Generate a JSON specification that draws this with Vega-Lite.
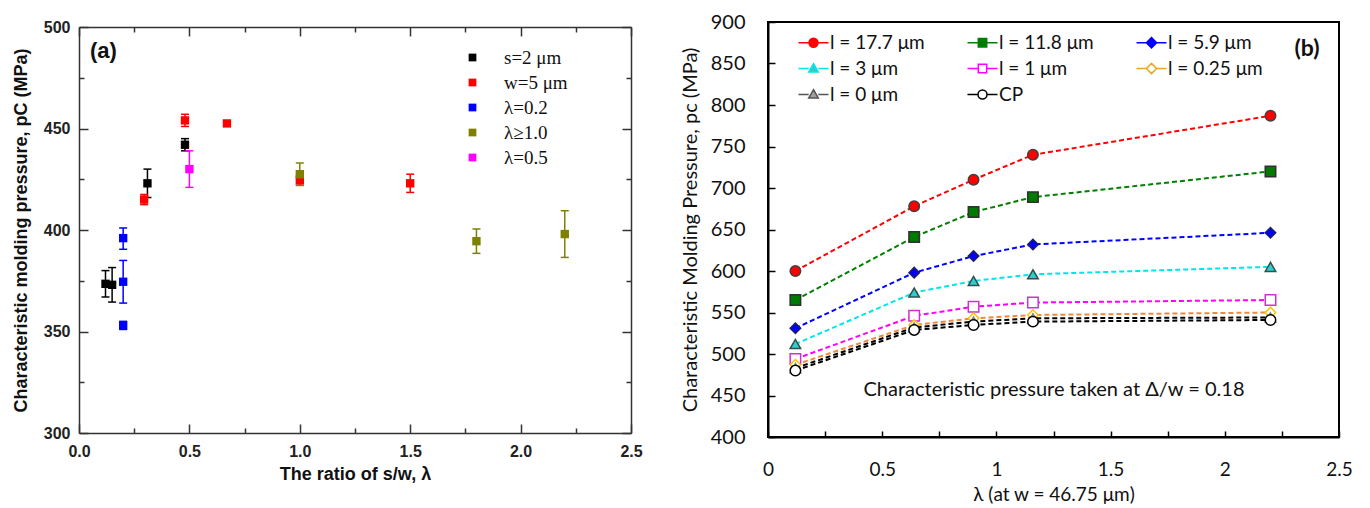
{
  "$schema": "https://vega.github.io/schema/vega-lite/v6.json",
  "padding": {"left": 12, "top": 11, "right": 0, "bottom": 0},
  "background": "white",
  "spacing": 36,
  "resolve": {"scale": {"color": "independent", "shape": "independent", "fill": "independent", "stroke": "independent"}},
  "datasets": {
    "a": [
      {"series": "s=2 μm", "x": 0.12, "p": 373.5, "lo": 367, "hi": 380},
      {"series": "s=2 μm", "x": 0.15, "p": 373, "lo": 364.5, "hi": 381.5},
      {"series": "s=2 μm", "x": 0.31, "p": 423, "lo": 416, "hi": 430},
      {"series": "s=2 μm", "x": 0.48, "p": 442, "lo": 439, "hi": 445},
      {"series": "w=5 μm", "x": 0.295, "p": 415, "lo": 412.5, "hi": 417.5},
      {"series": "w=5 μm", "x": 0.48, "p": 454, "lo": 451, "hi": 457},
      {"series": "w=5 μm", "x": 0.67, "p": 452.5, "lo": 451.5, "hi": 453.5},
      {"series": "w=5 μm", "x": 1.0, "p": 424.5, "lo": 422, "hi": 427},
      {"series": "w=5 μm", "x": 1.5, "p": 423, "lo": 418.5, "hi": 427.5},
      {"series": "λ=0.2", "x": 0.2, "p": 396, "lo": 390.5, "hi": 401},
      {"series": "λ=0.2", "x": 0.2, "p": 374.5, "lo": 364, "hi": 385},
      {"series": "λ=0.2", "x": 0.2, "p": 353, "lo": 351, "hi": 355},
      {"series": "λ≥1.0", "x": 1.0, "p": 427.5, "lo": 422, "hi": 433},
      {"series": "λ≥1.0", "x": 1.8, "p": 394.5, "lo": 388.5, "hi": 400.5},
      {"series": "λ≥1.0", "x": 2.2, "p": 398, "lo": 386.5, "hi": 409.5},
      {"series": "λ=0.5", "x": 0.5, "p": 430, "lo": 421, "hi": 439}
    ],
    "b": [
      {"series": "l = 17.7 μm", "x": 0.12, "p": 600},
      {"series": "l = 17.7 μm", "x": 0.64, "p": 678},
      {"series": "l = 17.7 μm", "x": 0.9, "p": 710},
      {"series": "l = 17.7 μm", "x": 1.16, "p": 740},
      {"series": "l = 17.7 μm", "x": 2.2, "p": 787},
      {"series": "l = 11.8 μm", "x": 0.12, "p": 565},
      {"series": "l = 11.8 μm", "x": 0.64, "p": 641},
      {"series": "l = 11.8 μm", "x": 0.9, "p": 671},
      {"series": "l = 11.8 μm", "x": 1.16, "p": 689},
      {"series": "l = 11.8 μm", "x": 2.2, "p": 720},
      {"series": "l = 5.9 μm", "x": 0.12, "p": 531},
      {"series": "l = 5.9 μm", "x": 0.64, "p": 598},
      {"series": "l = 5.9 μm", "x": 0.9, "p": 618},
      {"series": "l = 5.9 μm", "x": 1.16, "p": 632},
      {"series": "l = 5.9 μm", "x": 2.2, "p": 646},
      {"series": "l = 3 μm", "x": 0.12, "p": 512},
      {"series": "l = 3 μm", "x": 0.64, "p": 574},
      {"series": "l = 3 μm", "x": 0.9, "p": 588},
      {"series": "l = 3 μm", "x": 1.16, "p": 596},
      {"series": "l = 3 μm", "x": 2.2, "p": 605},
      {"series": "l = 1 μm", "x": 0.12, "p": 494},
      {"series": "l = 1 μm", "x": 0.64, "p": 546},
      {"series": "l = 1 μm", "x": 0.9, "p": 557},
      {"series": "l = 1 μm", "x": 1.16, "p": 562},
      {"series": "l = 1 μm", "x": 2.2, "p": 565},
      {"series": "l = 0.25 μm", "x": 0.12, "p": 487},
      {"series": "l = 0.25 μm", "x": 0.64, "p": 535},
      {"series": "l = 0.25 μm", "x": 0.9, "p": 543},
      {"series": "l = 0.25 μm", "x": 1.16, "p": 547},
      {"series": "l = 0.25 μm", "x": 2.2, "p": 550},
      {"series": "l = 0 μm", "x": 0.12, "p": 483},
      {"series": "l = 0 μm", "x": 0.64, "p": 532},
      {"series": "l = 0 μm", "x": 0.9, "p": 539},
      {"series": "l = 0 μm", "x": 1.16, "p": 543},
      {"series": "l = 0 μm", "x": 2.2, "p": 544},
      {"series": "CP", "x": 0.12, "p": 480},
      {"series": "CP", "x": 0.64, "p": 529},
      {"series": "CP", "x": 0.9, "p": 535},
      {"series": "CP", "x": 1.16, "p": 539},
      {"series": "CP", "x": 2.2, "p": 541}
    ]
  },
  "hconcat": [
    {
      "width": 552,
      "height": 411,
      "view": {"stroke": null},
      "resolve": {"axis": {"x": "independent", "y": "independent"}},
      "layer": [
        {
          "data": {"name": "a"},
          "mark": {"type": "rule", "strokeWidth": 1.5},
          "encoding": {
            "x": {"field": "x", "type": "quantitative", "scale": {"domain": [0, 2.5], "nice": false, "zero": false},
              "axis": {"orient": "bottom", "values": [0, 0.5, 1, 1.5, 2, 2.5], "format": ".1f", "tickSize": -9, "tickWidth": 1.5, "tickColor": "#333", "domainColor": "#333", "domainWidth": 1.5, "grid": false, "labelPadding": 19, "labelFont": "Liberation Sans", "labelFontWeight": "bold", "labelFontSize": 16, "labelColor": "#222", "title": "The ratio of s/w, λ", "titleFont": "Liberation Sans", "titleFontWeight": "bold", "titleFontSize": 18, "titleColor": "#111", "titlePadding": 6, "labelFlush": false}},
            "y": {"field": "lo", "type": "quantitative", "scale": {"domain": [300, 500], "nice": false, "zero": false, "range": [411, 5]},
              "axis": {"orient": "left", "values": [300, 350, 400, 450, 500], "tickSize": -9, "tickWidth": 1.5, "tickColor": "#333", "domainColor": "#333", "domainWidth": 1.5, "grid": false, "labelPadding": 18, "labelFont": "Liberation Sans", "labelFontWeight": "bold", "labelFontSize": 16, "labelColor": "#222", "title": "Characteristic molding pressure, pC (MPa)", "titleFont": "Liberation Sans", "titleFontWeight": "bold", "titleFontSize": 18, "titleColor": "#111", "titlePadding": 13, "labelFlush": false}},
            "y2": {"field": "hi"},
            "color": {"field": "series", "type": "nominal",
              "scale": {"domain": ["s=2 μm", "w=5 μm", "λ=0.2", "λ≥1.0", "λ=0.5"], "range": ["#000000", "#ff0000", "#0000ff", "#808000", "#ff00ff"]},
              "legend": {"title": null, "orient": "none", "legendX": 384, "legendY": 26, "symbolType": "square", "symbolSize": 60, "symbolOpacity": 1, "symbolStrokeWidth": 0, "labelFont": "Liberation Serif", "labelFontSize": 19, "labelColor": "#111", "labelOffset": 22, "rowPadding": 5, "padding": 0}}
          }
        },
        {
          "data": {"name": "a"},
          "mark": {"type": "tick", "orient": "horizontal", "size": 8, "thickness": 1.5, "opacity": 1},
          "encoding": {
            "x": {"field": "x", "type": "quantitative",
              "axis": {"orient": "top", "offset": -5, "values": [0, 0.5, 1, 1.5, 2, 2.5], "tickSize": -9, "tickWidth": 1.5, "tickColor": "#333", "domainColor": "#333", "domainWidth": 1.5, "grid": false, "labels": false, "title": null, "minExtent": 0, "maxExtent": 0}},
            "y": {"field": "lo", "type": "quantitative",
              "axis": {"orient": "right", "values": [300, 350, 400, 450, 500], "tickSize": -9, "tickWidth": 1.5, "tickColor": "#333", "domainColor": "#333", "domainWidth": 1.5, "grid": false, "labels": false, "title": null, "minExtent": 0, "maxExtent": 0}},
            "color": {"field": "series", "type": "nominal",
              "legend": {"title": null, "orient": "none", "legendX": 384, "legendY": 26, "symbolType": "square", "symbolSize": 60, "symbolOpacity": 1, "symbolStrokeWidth": 0, "labelFont": "Liberation Serif", "labelFontSize": 19, "labelColor": "#111", "labelOffset": 22, "rowPadding": 5, "padding": 0}}
          }
        },
        {
          "data": {"name": "a"},
          "mark": {"type": "tick", "orient": "horizontal", "size": 8, "thickness": 1.5, "opacity": 1},
          "encoding": {
            "x": {"field": "x", "type": "quantitative",
              "axis": {"orient": "bottom", "values": [0.25, 0.75, 1.25, 1.75, 2.25], "tickSize": -5, "tickWidth": 1.5, "tickColor": "#333", "domain": false, "grid": false, "labels": false, "title": null, "minExtent": 0, "maxExtent": 0}},
            "y": {"field": "hi", "type": "quantitative",
              "axis": {"orient": "left", "values": [325, 375, 425, 475], "tickSize": -5, "tickWidth": 1.5, "tickColor": "#333", "domain": false, "grid": false, "labels": false, "title": null, "minExtent": 0, "maxExtent": 0}},
            "color": {"field": "series", "type": "nominal",
              "legend": {"title": null, "orient": "none", "legendX": 384, "legendY": 26, "symbolType": "square", "symbolSize": 60, "symbolOpacity": 1, "symbolStrokeWidth": 0, "labelFont": "Liberation Serif", "labelFontSize": 19, "labelColor": "#111", "labelOffset": 22, "rowPadding": 5, "padding": 0}}
          }
        },
        {
          "data": {"name": "a"},
          "mark": {"type": "square", "size": 70, "filled": true, "opacity": 1},
          "encoding": {
            "x": {"field": "x", "type": "quantitative",
              "axis": {"orient": "top", "offset": -5, "values": [0.25, 0.75, 1.25, 1.75, 2.25], "tickSize": -5, "tickWidth": 1.5, "tickColor": "#333", "domain": false, "grid": false, "labels": false, "title": null, "minExtent": 0, "maxExtent": 0}},
            "y": {"field": "p", "type": "quantitative",
              "axis": {"orient": "right", "values": [325, 375, 425, 475], "tickSize": -5, "tickWidth": 1.5, "tickColor": "#333", "domain": false, "grid": false, "labels": false, "title": null, "minExtent": 0, "maxExtent": 0}},
            "color": {"field": "series", "type": "nominal",
              "legend": {"title": null, "orient": "none", "legendX": 384, "legendY": 26, "symbolType": "square", "symbolSize": 60, "symbolOpacity": 1, "symbolStrokeWidth": 0, "labelFont": "Liberation Serif", "labelFontSize": 19, "labelColor": "#111", "labelOffset": 22, "rowPadding": 5, "padding": 0}}
          }
        },
        {
          "data": {"values": [{"x": 0.05, "p": 488, "t": "(a)"}]},
          "mark": {"type": "text", "align": "left", "baseline": "middle", "font": "Liberation Sans", "fontWeight": "bold", "fontSize": 22, "color": "#111"},
          "encoding": {
            "x": {"field": "x", "type": "quantitative", "axis": null},
            "y": {"field": "p", "type": "quantitative", "axis": null},
            "text": {"field": "t"}
          }
        }
      ]
    },
    {
      "width": 571,
      "height": 415,
      "view": {"stroke": "#000", "strokeWidth": 2},
      "resolve": {"scale": {"shape": "independent", "fill": "independent", "stroke": "independent"}},
      "layer": [
        {
          "data": {"name": "b"},
          "mark": {"type": "line", "strokeDash": [5, 3], "strokeWidth": 2},
          "encoding": {
            "x": {"field": "x", "type": "quantitative", "scale": {"domain": [0, 2.5], "nice": false, "zero": false},
              "axis": {"orient": "bottom", "values": [0, 0.25, 0.5, 0.75, 1, 1.25, 1.5, 1.75, 2, 2.25, 2.5], "format": "~g", "labelExpr": "(datum.value * 2) % 1 == 0 ? datum.label : ''", "tickSize": -6, "tickWidth": 1.5, "tickColor": "#000", "domainColor": "#000", "domainWidth": 2, "grid": false, "labelPadding": 29, "labelFont": "Lato", "labelFontSize": 19, "labelColor": "#111", "labelFlush": false, "title": "λ (at w = 46.75 μm)", "titleFont": "Lato", "titleFontWeight": "normal", "titleFontSize": 19, "titleColor": "#111", "titlePadding": 6}},
            "y": {"field": "p", "type": "quantitative", "scale": {"domain": [400, 900], "nice": false, "zero": false},
              "axis": {"orient": "left", "values": [400, 450, 500, 550, 600, 650, 700, 750, 800, 850, 900], "tickSize": -7, "tickWidth": 1.5, "tickColor": "#000", "domainColor": "#000", "domainWidth": 2, "grid": false, "labelPadding": 30, "labelFont": "Lato", "labelFontSize": 20, "labelColor": "#111", "labelFlush": false, "title": "Characteristic Molding Pressure, pc (MPa)", "titleFont": "Lato", "titleFontWeight": "normal", "titleFontSize": 20, "titleColor": "#111", "titlePadding": 10}},
            "color": {"field": "series", "type": "nominal", "legend": null,
              "scale": {"domain": ["l = 17.7 μm", "l = 11.8 μm", "l = 5.9 μm", "l = 3 μm", "l = 1 μm", "l = 0.25 μm", "l = 0 μm", "CP"], "range": ["#ff0000", "#008000", "#0000ff", "#00e5ee", "#ff00ff", "#f0883e", "#000000", "#000000"]}}
          }
        },
        {
          "data": {"name": "b"},
          "mark": {"type": "point", "filled": false, "size": 110, "opacity": 1, "strokeWidth": 1.5},
          "encoding": {
            "x": {"field": "x", "type": "quantitative"},
            "y": {"field": "p", "type": "quantitative"},
            "shape": {"field": "series", "type": "nominal", "legend": null,
              "scale": {"domain": ["l = 17.7 μm", "l = 11.8 μm", "l = 5.9 μm", "l = 3 μm", "l = 1 μm", "l = 0.25 μm", "l = 0 μm", "CP"], "range": ["circle", "square", "diamond", "triangle-up", "square", "diamond", "triangle-up", "circle"]}},
            "fill": {"field": "series", "type": "nominal", "legend": null,
              "scale": {"domain": ["l = 17.7 μm", "l = 11.8 μm", "l = 5.9 μm", "l = 3 μm", "l = 1 μm", "l = 0.25 μm", "l = 0 μm", "CP"], "range": ["#ff0000", "#007a00", "#0000ff", "#33cccc", "#ffffff", "#ffffff", "#ffffff", "#ffffff"]}},
            "stroke": {"field": "series", "type": "nominal", "legend": null,
              "scale": {"domain": ["l = 17.7 μm", "l = 11.8 μm", "l = 5.9 μm", "l = 3 μm", "l = 1 μm", "l = 0.25 μm", "l = 0 μm", "CP"], "range": ["#404040", "#303030", "#202060", "#305050", "#cc33cc", "#ffc000", "#808080", "#000000"]}}
          }
        },
        {
          "data": {"name": "b"},
          "transform": [{"filter": "false"}],
          "mark": {"type": "point", "filled": true, "opacity": 1},
          "encoding": {
            "x": {"field": "x", "type": "quantitative"},
            "y": {"field": "p", "type": "quantitative"},
            "shape": {"field": "series", "type": "nominal",
              "scale": {"domain": ["l = 17.7 μm", "l = 11.8 μm", "l = 5.9 μm", "l = 3 μm", "l = 1 μm", "l = 0.25 μm", "l = 0 μm", "CP"], "range": [
                "M-2.5,0H-0.75M0.75,0H2.5M-0.75,0A0.75,0.75 0 1,0 0.75,0A0.75,0.75 0 1,0 -0.75,0Z",
                "M-2.5,0H-0.7M0.7,0H2.5M-0.7,-0.7H0.7V0.7H-0.7Z",
                "M-2.5,0H-0.85M0.85,0H2.5M0,-0.85L0.85,0L0,0.85L-0.85,0Z",
                "M-2.5,0H-0.8M0.8,0H2.5M0,-0.8L0.8,0.6H-0.8Z",
                "M-2.5,0H-0.7M0.7,0H2.5M-0.7,-0.7H0.7V0.7H-0.7Z",
                "M-2.5,0H-0.85M0.85,0H2.5M0,-0.85L0.85,0L0,0.85L-0.85,0Z",
                "M-2.5,0H-0.8M0.8,0H2.5M0,-0.8L0.8,0.6H-0.8Z",
                "M-2.5,0H-0.75M0.75,0H2.5M-0.75,0A0.75,0.75 0 1,0 0.75,0A0.75,0.75 0 1,0 -0.75,0Z"
              ]},
              "legend": {"title": null, "orient": "none", "legendX": 36, "legendY": 11, "direction": "horizontal", "columns": 3, "gridAlign": "all", "columnPadding": 39, "rowPadding": 6, "symbolSize": 144, "symbolStrokeWidth": 1.5, "symbolOpacity": 1, "labelOffset": 7, "labelFont": "Lato", "labelFontSize": 19, "labelColor": "#111", "padding": 0}},
            "fill": {"field": "series", "type": "nominal",
              "scale": {"domain": ["l = 17.7 μm", "l = 11.8 μm", "l = 5.9 μm", "l = 3 μm", "l = 1 μm", "l = 0.25 μm", "l = 0 μm", "CP"], "range": ["#ff0000", "#007a00", "#0000ff", "#33cccc", "#ffffff", "#ffffff", "#a0a0a0", "#ffffff"]},
              "legend": {"title": null, "orient": "none", "legendX": 36, "legendY": 11, "direction": "horizontal", "columns": 3, "gridAlign": "all", "columnPadding": 39, "rowPadding": 6, "symbolSize": 144, "symbolStrokeWidth": 1.5, "symbolOpacity": 1, "labelOffset": 7, "labelFont": "Lato", "labelFontSize": 19, "labelColor": "#111", "padding": 0}},
            "stroke": {"field": "series", "type": "nominal",
              "scale": {"domain": ["l = 17.7 μm", "l = 11.8 μm", "l = 5.9 μm", "l = 3 μm", "l = 1 μm", "l = 0.25 μm", "l = 0 μm", "CP"], "range": ["#ff0000", "#008000", "#0000ff", "#00e5ee", "#ff00ff", "#f4a030", "#555555", "#000000"]},
              "legend": {"title": null, "orient": "none", "legendX": 36, "legendY": 11, "direction": "horizontal", "columns": 3, "gridAlign": "all", "columnPadding": 39, "rowPadding": 6, "symbolSize": 144, "symbolStrokeWidth": 1.5, "symbolOpacity": 1, "labelOffset": 7, "labelFont": "Lato", "labelFontSize": 19, "labelColor": "#111", "padding": 0}}
          }
        },
        {
          "data": {"values": [
            {"x": 2.36, "p": 868, "t": "(b)"}
          ]},
          "mark": {"type": "text", "align": "center", "baseline": "middle", "font": "Lato", "fontWeight": "bold", "fontSize": 23, "color": "#111"},
          "encoding": {
            "x": {"field": "x", "type": "quantitative"},
            "y": {"field": "p", "type": "quantitative"},
            "text": {"field": "t"}
          }
        },
        {
          "data": {"values": [
            {"x": 1.252, "p": 456.5, "t": "Characteristic pressure taken at Δ/w = 0.18"}
          ]},
          "mark": {"type": "text", "align": "center", "baseline": "middle", "font": "Lato", "fontSize": 20, "color": "#111"},
          "encoding": {
            "x": {"field": "x", "type": "quantitative"},
            "y": {"field": "p", "type": "quantitative"},
            "text": {"field": "t"}
          }
        }
      ]
    }
  ]
}
